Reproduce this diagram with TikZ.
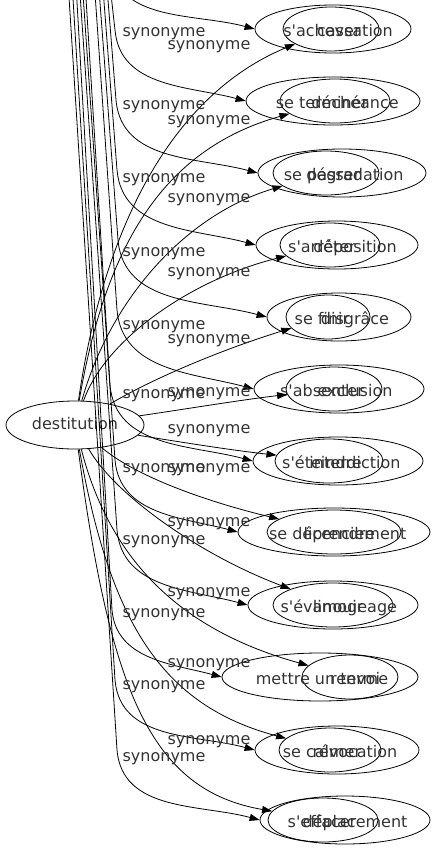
\documentclass[tikz,border=0pt]{standalone}
\usepackage{fontspec}
\setmainfont{DejaVu Sans}
\usepackage{tikz}
\usetikzlibrary{shapes.geometric,arrows.meta}
\tikzstyle{syn} = [draw, line width=0.8bp, -{Triangle[length=10bp,width=7bp]}]
\tikzstyle{ell} = [draw, ellipse, line width=0.8bp, inner sep=0pt]
\tikzstyle{word} = [inner sep=0pt, text height=12bp, text depth=4bp, text=black!80,
    font=\fontsize{16bp}{19bp}\selectfont]
\newcommand{\synpair}[8]{
	\node(verb#1) at (#3,#2) [ell, minimum width=#4bp, minimum height=48bp] {};
	\node(noun#1) at (#5,#2) [ell, minimum width=#6bp, minimum height=44bp] {};
	\node(verbtext#1) at (322,#2+3) [word] {#7};
	\node(nountext#1) at (355,#2+3) [word] {#8};
}
\newcommand{\topedge}[4]{
	\coordinate (top#1) at (#2,-50);
	\draw[syn] (top#1) -- (#3,#4) to[out=-85,in=165] (verb#1.west);
}
\newcommand{\nounedge}[5]{
	\draw[syn] (destitution) .. controls (#2,#3) and (#4,#5) .. (noun#1);
}
\newcommand{\synlabel}[3]{
	\node(label#1) at (#2,#3) [word] {synonyme};
}
\newcommand{\q}{\textquotesingle}

\begin{document}
\begin{tikzpicture}[x=1bp,y=-1bp]
	\useasboundingbox (0,0) rectangle (436,851);
	\clip (0,0) rectangle (436,851);

	\node(destitution) at (75,425) [ell, word, minimum width=138bp, minimum height=48bp] {destitution};

	\synpair{1}{29}{333}{156}{331}{96}{s\q achever}{cassation};
	\synpair{2}{101}{333}{174}{335}{110}{se terminer}{déchéance};
	\synpair{3}{173}{342}{168}{326}{106}{se passer}{dégradation};
	\synpair{4}{245}{337}{162}{330}{100}{s\q arrêter}{déposition};
	\synpair{5}{317}{339}{144}{328}{84}{se finir}{disgrâce};
	\synpair{6}{389}{339}{170}{334}{96}{s\q absenter}{exclusion};
	\synpair{7}{461}{338}{170}{329}{108}{s\q éteindre}{interdiction};
	\synpair{8}{532}{334}{192}{334}{134}{se déprendre}{licenciement};
	\synpair{9}{605}{333}{170}{333}{120}{s\q évanouir}{limogeage};
	\synpair{10}{677}{320}{196}{350}{96}{mettre un terme}{renvoi};
	\synpair{11}{750}{337}{164}{330}{102}{se calmer}{révocation};
	\synpair{12}{820}{345}{170}{323}{110}{s\q effacer}{déplacement};

	\topedge{1}{110}{110}{-40};
	\topedge{2}{106}{115}{30};
	\topedge{3}{104}{116}{100};
	\topedge{4}{100}{117}{170};
	\topedge{5}{96}{118}{240};
	\topedge{6}{92}{117}{310};
	\topedge{7}{83}{110}{385};
	\topedge{8}{80}{115}{460};
	\topedge{9}{77}{117}{530};
	\topedge{10}{74}{112}{610};
	\topedge{11}{70}{115}{680};
	\topedge{12}{66}{117}{750};

	\nounedge{1}{100}{250}{160}{100};
	\nounedge{2}{105}{250}{160}{150};
	\nounedge{3}{110}{300}{185}{215};
	\nounedge{4}{105}{340}{190}{280};
	\nounedge{5}{150}{380}{220}{350};
	\nounedge{6}{180}{410}{240}{400};
	\nounedge{7}{180}{442}{230}{450};
	\nounedge{8}{140}{480}{220}{505};
	\nounedge{9}{115}{495}{200}{555};
	\nounedge{10}{110}{560}{180}{630};
	\nounedge{11}{110}{620}{160}{705};
	\nounedge{12}{110}{690}{150}{790};

	\synlabel{1}{164}{32};
	\synlabel{2}{209}{45};
	\synlabel{3}{164}{105};
	\synlabel{4}{209}{120};
	\synlabel{5}{164}{178};
	\synlabel{6}{209}{198};
	\synlabel{7}{164}{252};
	\synlabel{8}{209}{272};
	\synlabel{9}{164}{325};
	\synlabel{10}{209}{339};
	\synlabel{11}{164}{394};
	\synlabel{12}{209}{392};
	\synlabel{13}{209}{429};
	\synlabel{14}{164}{468};
	\synlabel{15}{209}{468};
	\synlabel{16}{209}{522};
	\synlabel{17}{164}{540};
	\synlabel{18}{209}{592};
	\synlabel{19}{164}{613};
	\synlabel{20}{209}{663};
	\synlabel{21}{164}{685};
	\synlabel{22}{209}{740};
	\synlabel{23}{164}{757};
\end{tikzpicture}
\end{document}
